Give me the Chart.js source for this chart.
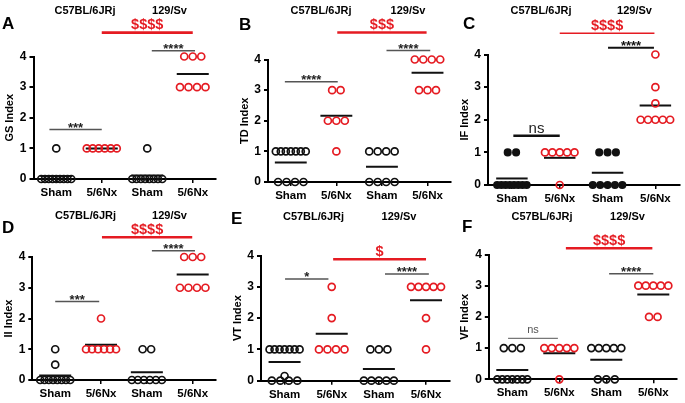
<!DOCTYPE html>
<html>
<head>
<meta charset="utf-8">
<script src="https://cdn.jsdelivr.net/npm/chart.js@4"></script>
<style>
  html, body { margin: 0; padding: 0; background: #fff; }
  #fig { position: relative; width: 685px; height: 403px; overflow: hidden; }
  #fig canvas { position: absolute; }
</style>
</head>
<body>
<div id="fig"></div>
<script>
// ─── DATA ───────────────────────────────────────────────
const groupLabels = ['Sham', '5/6Nx', 'Sham', '5/6Nx'];
const strainLabels = ['C57BL/6JRj', '129/Sv'];
const yTicks = [0, 1, 2, 3, 4];

// scores per group: [C57 Sham, C57 5/6Nx, 129 Sham, 129 5/6Nx]
const gsIndex = [[1, 0, 0, 0, 0, 0, 0, 0, 0, 0], [1, 1, 1, 1, 1, 1], [1, 0, 0, 0, 0, 0, 0, 0, 0], [4, 4, 4, 3, 3, 3, 3]];
const tdIndex = [[1, 1, 1, 1, 1, 1, 1, 0, 0, 0, 0], [3, 3, 2, 2, 2, 1], [1, 1, 1, 1, 0, 0, 0, 0], [4, 4, 4, 4, 3, 3, 3]];
const ifIndex = [[1, 1, 0, 0, 0, 0, 0, 0, 0, 0], [1, 1, 1, 1, 1, 0], [1, 1, 1, 0, 0, 0, 0, 0], [4, 3, 2.5, 2, 2, 2, 2, 2]];
const iiIndex = [[1, 0.5, 0, 0, 0, 0, 0, 0, 0, 0], [2, 1, 1, 1, 1, 1, 1], [1, 1, 0, 0, 0, 0, 0, 0], [4, 4, 4, 3, 3, 3, 3]];
const vtIndex = [[1, 1, 1, 1, 1, 1, 1, 0.15, 0, 0, 0, 0], [3, 2, 1, 1, 1, 1], [1, 1, 1, 0, 0, 0, 0, 0], [3, 3, 3, 3, 3, 2, 1]];
const vfIndex = [[1, 1, 1, 0, 0, 0, 0, 0, 0, 0], [1, 1, 1, 1, 1, 0], [1, 1, 1, 1, 1, 0, 0, 0], [3, 3, 3, 3, 3, 2, 2]];

// ─── STYLE ──────────────────────────────────────────────
const FONT = '"Liberation Sans", Arial, Helvetica, sans-serif';
const RED = '#e51b22';
const GRAY = '#555';

const redBar = (x, y, text, lw) => ({ x, y, text, color: RED, lw: lw || 2.5, font: 'bold 14.5px', dy: -3.5 });
const starBar = (x, y, text) => ({ x, y, text, color: GRAY, lw: 1.5, font: 'bold 13px', dy: 2.5, tcolor: '#222' });

const panels = [
  { letter: 'A', title: 'GS Index', values: gsIndex, box: [0, 0, 228, 200], area: [33.5, 56.5, 215.5, 179],
    letterPos: [2, 29], heads: [[85, 14], [169.5, 14]],
    bars: [redBar([2, 4], 4.78, '$$$$', 2.7), starBar([3.1, 4.05], 4.19, '****'), starBar([0.85, 2], 1.62, '***')] },
  { letter: 'B', title: 'TD Index', values: tdIndex, box: [228, 0, 228, 200], area: [268, 59.5, 451, 182],
    letterPos: [239, 30], heads: [[321, 14], [408, 14]],
    bars: [redBar([2.02, 3.98], 4.88, '$$$'), starBar([3.1, 4.06], 4.29, '****'), starBar([0.87, 2.03], 3.27, '****')] },
  { letter: 'C', title: 'IF Index', values: ifIndex, box: [456, 0, 229, 215], area: [488, 54.5, 682.5, 185],
    letterPos: [463, 29], heads: [[541, 14], [634.5, 14]], filledSham: true,
    bars: [redBar([2, 3.98], 4.65, '$$$$', 1.6),
           { x: [3.01, 3.97], y: 4.21, text: '****', color: '#111', lw: 2, font: 'bold 13px', dy: 2.5, tcolor: '#111' },
           { x: [1.03, 2], y: 1.51, text: 'ns', color: '#111', lw: 2.5, font: '15px', dy: -2.5, tcolor: '#222' }] },
  { letter: 'D', title: 'II Index', values: iiIndex, box: [0, 200, 228, 203], area: [32.3, 257, 215.6, 380],
    letterPos: [2, 233], heads: [[85.5, 218.5], [169.5, 218.5]],
    bars: [redBar([2.02, 3.99], 4.64, '$$$$'), starBar([3.11, 4.05], 4.2, '****'), starBar([1, 1.96], 2.55, '***')] },
  { letter: 'E', title: 'VT Index', values: vtIndex, box: [228, 200, 228, 203], area: [261, 255.5, 449.6, 380.7],
    letterPos: [231, 224], heads: [[313.5, 220], [399, 220]],
    bars: [redBar([2.03, 4], 3.88, '$'), starBar([1.01, 1.93], 3.25, '*'), starBar([3.13, 4.06], 3.41, '****')] },
  { letter: 'F', title: 'VF Index', values: vfIndex, box: [456, 200, 229, 203], area: [488.8, 254.5, 676.8, 379.3],
    letterPos: [462, 232], heads: [[542, 219.5], [627.5, 219.5]],
    bars: [redBar([2.14, 3.98], 4.2, '$$$$'), starBar([3.06, 4], 3.38, '****'),
           { x: [0.91, 1.97], y: 1.31, text: 'ns', color: '#777', lw: 1.2, font: '11px', dy: -5, tcolor: '#555' }] },
];

// lay points with equal value side by side around the group centre
function spread(vals, unitPx) {
  const rows = new Map();
  vals.forEach(v => { if (!rows.has(v)) rows.set(v, []); rows.get(v).push(v); });
  const pts = [];
  rows.forEach(row => {
    const n = row.length;
    const step = n > 1 ? Math.min(8.5, 30 / (n - 1)) : 0;
    row.forEach((v, i) => pts.push({ dx: (i - (n - 1) / 2) * step / unitPx, y: v }));
  });
  return pts;
}

const mean = arr => arr.reduce((a, b) => a + b, 0) / arr.length;

function textPlugin(p) {
  const [bx, by] = p.box;
  return {
    id: 'panelText',
    afterDraw(chart) {
      const ctx = chart.ctx;
      const xs = chart.scales.x, ys = chart.scales.y;
      ctx.save();
      // panel letter
      ctx.fillStyle = '#000';
      ctx.font = 'bold 17px ' + FONT;
      ctx.textAlign = 'left';
      ctx.textBaseline = 'alphabetic';
      ctx.fillText(p.letter, p.letterPos[0] - bx, p.letterPos[1] - by);
      // strain headers
      ctx.font = 'bold 11px ' + FONT;
      ctx.textAlign = 'center';
      p.heads.forEach((h, i) => ctx.fillText(strainLabels[i], h[0] - bx, h[1] - by));
      // significance bars
      p.bars.forEach(b => {
        const x1 = xs.getPixelForValue(b.x[0]), x2 = xs.getPixelForValue(b.x[1]);
        const y = ys.getPixelForValue(b.y);
        ctx.strokeStyle = b.color;
        ctx.lineWidth = b.lw;
        ctx.beginPath();
        ctx.moveTo(x1, y);
        ctx.lineTo(x2, y);
        ctx.stroke();
        ctx.fillStyle = b.tcolor || b.color;
        ctx.font = b.font + ' ' + FONT;
        ctx.textAlign = 'center';
        ctx.textBaseline = 'alphabetic';
        ctx.fillText(b.text, (x1 + x2) / 2, y + b.dy);
      });
      ctx.restore();
    }
  };
}

const fig = document.getElementById('fig');

panels.forEach(p => {
  const [bx, by, bw, bh] = p.box;
  const [L, T, R, B] = p.area;
  const unitPx = (R - L) / 4;
  const yAxisW = 30;

  const canvas = document.createElement('canvas');
  canvas.width = bw;
  canvas.height = bh;
  canvas.style.left = bx + 'px';
  canvas.style.top = by + 'px';
  fig.appendChild(canvas);

  const datasets = [];
  p.values.forEach((vals, g) => {
    const isNx = g % 2 === 1;
    const filled = p.filledSham && !isNx;
    const color = isNx ? RED : '#111';
    datasets.push({
      data: spread(vals, unitPx).map(pt => ({ x: g + 1 + pt.dx, y: pt.y })),
      pointRadius: filled ? 3.2 : 3.5,
      pointBorderWidth: 1.7,
      pointBorderColor: color,
      pointBackgroundColor: filled ? '#111' : 'rgba(0,0,0,0)',
      clip: false,
      order: 1,
    });
    const m = mean(vals);
    const hw = 16 / unitPx;
    datasets.push({
      data: [{ x: g + 1 - hw, y: m }, { x: g + 1 + hw, y: m }],
      showLine: true,
      borderColor: '#111',
      borderWidth: 2,
      pointRadius: 0,
      clip: false,
      order: 2,
    });
  });

  new Chart(canvas, {
    type: 'scatter',
    data: { datasets },
    options: {
      responsive: false,
      animation: false,
      events: [],
      layout: { padding: { left: L - yAxisW - bx, top: T - by, right: bx + bw - R, bottom: 0 } },
      plugins: { legend: { display: false }, tooltip: { enabled: false } },
      scales: {
        x: {
          type: 'linear', min: 0.5, max: 4.5,
          afterBuildTicks: s => { s.ticks = [1, 2, 3, 4].map(v => ({ value: v })); },
          afterFit: s => { s.height = by + bh - B; },
          ticks: {
            callback: v => groupLabels[v - 1],
            color: '#000', font: { family: FONT, size: 11.5, weight: 'bold' },
            padding: 3, maxRotation: 0, autoSkip: false,
          },
          grid: { drawOnChartArea: false, drawTicks: true, tickLength: 4, color: '#000', lineWidth: 1.5 },
          border: { display: true, color: '#000', width: 2 },
        },
        y: {
          min: 0, max: 4,
          afterBuildTicks: s => { s.ticks = yTicks.map(v => ({ value: v })); },
          afterFit: s => { s.width = yAxisW; },
          ticks: { color: '#000', font: { family: FONT, size: 12, weight: 'bold' }, padding: 3 },
          grid: { drawOnChartArea: false, drawTicks: true, tickLength: 4, color: '#000', lineWidth: 2 },
          border: { display: true, color: '#000', width: 2 },
          title: { display: true, text: p.title, color: '#000', font: { family: FONT, size: 11, weight: 'bold' }, padding: { top: 0, bottom: 0 } },
        },
      },
    },
    plugins: [textPlugin(p)],
  });
});
</script>
</body>
</html>
